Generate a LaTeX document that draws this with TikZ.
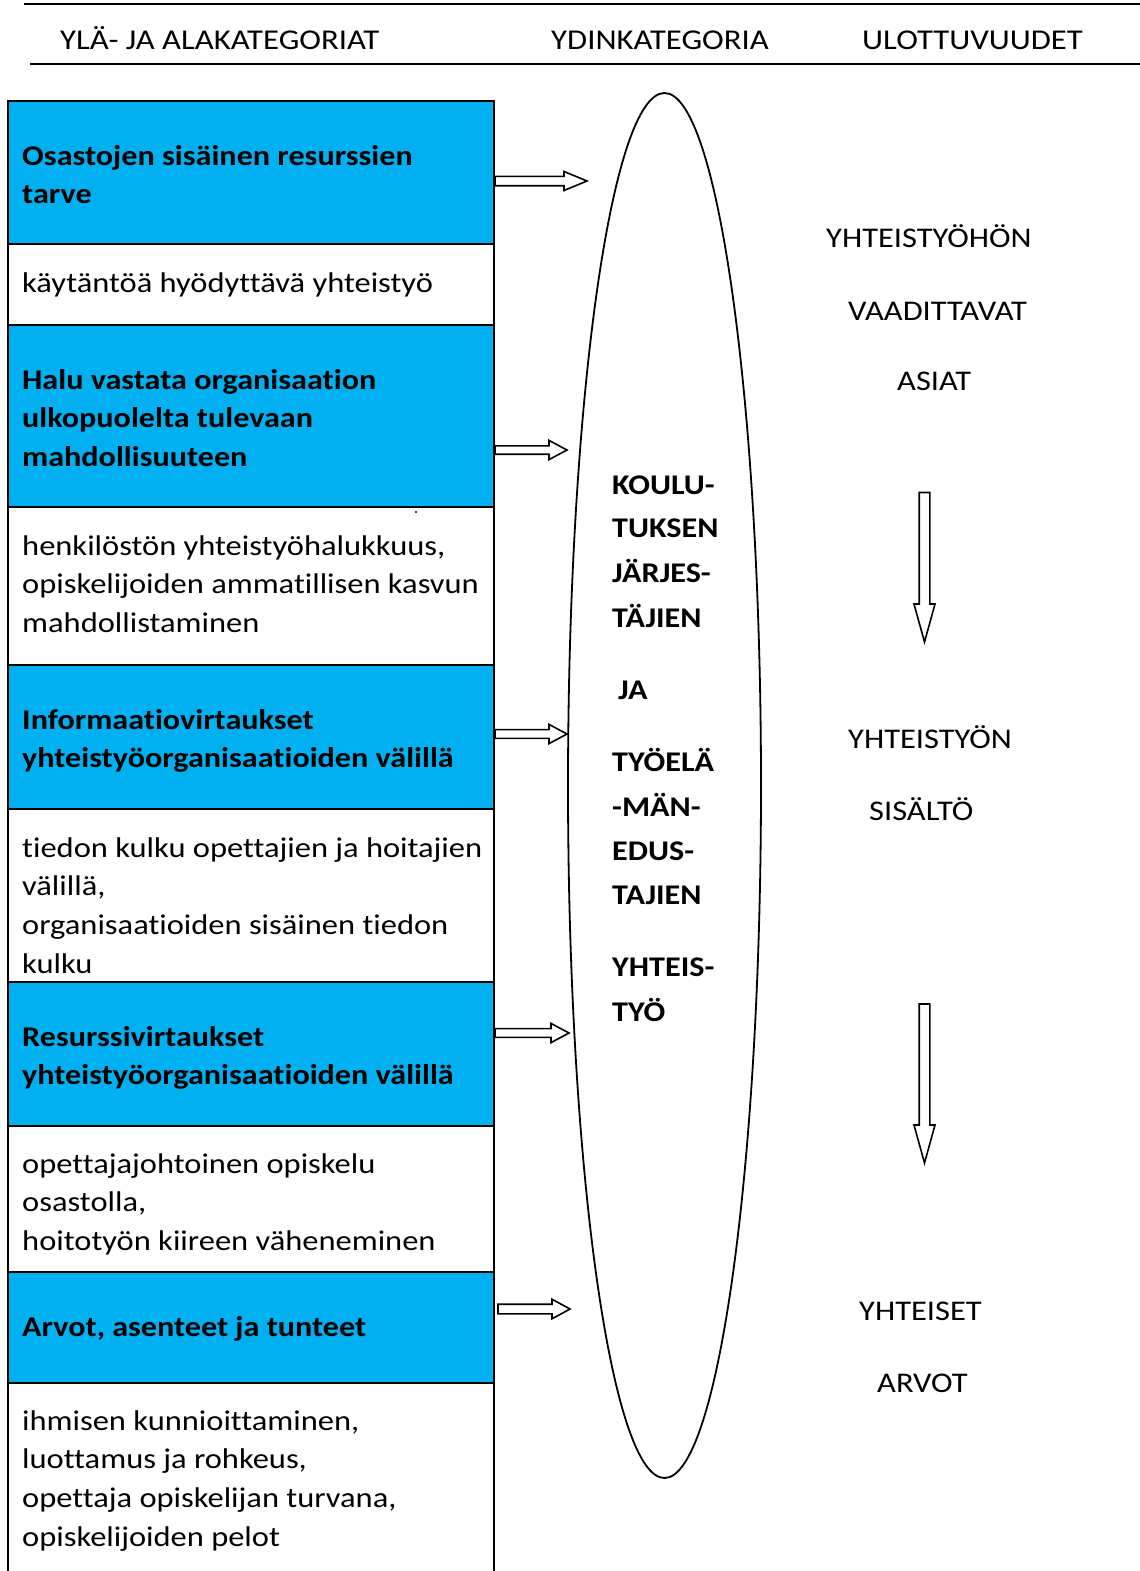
\documentclass[tikz,border=0pt]{standalone}
\usepackage{fontspec}
\setmainfont{Carlito}[FakeStretch=1.14, Ligatures=NoCommon, BoldFeatures={FakeStretch=1.128}]
\definecolor{boxblue}{HTML}{00B0F0}
\newcommand\stack[1]{\vtop{\halign{##\hfil\cr#1\crcr}}}
\newcommand\rightblock[6]{\draw[blockarrow] (#1,#2-#5) -- (#3,#2-#5) -- (#3,#2-#6) -- (#4,#2) -- (#3,#2+#6) -- (#3,#2+#5) -- (#1,#2+#5) -- cycle;}
\newcommand\downblock[6]{\draw[blockarrow] (#1-#5,#2) -- (#1+#5,#2) -- (#1+#5,#3) -- (#1+#6,#3) -- (#1,#4) -- (#1-#6,#3) -- (#1-#5,#3) -- cycle;}
\begin{document}
\begin{tikzpicture}[x=1pt,y=-1pt,
  bodytext/.style={font=\fontsize{28.5}{38.7}\selectfont, inner sep=0pt, anchor=base west},
  boldtext/.style={font=\fontsize{28.5}{38.7}\selectfont\bfseries, inner sep=0pt, anchor=base west},
  headtext/.style={font=\fontsize{28.7}{34}\selectfont, inner sep=0pt, anchor=base west},
  bluebox/.style={fill=boxblue, draw=black, line width=2pt},
  whitebox/.style={fill=white, draw=black, line width=2pt},
  blockarrow/.style={draw=black, fill=white, line width=1.6pt, line join=miter},
  rule/.style={draw=black, line width=2pt}]
\useasboundingbox (0,0) rectangle (1140,1571);
\fill[white] (0,0) rectangle (1140,1571);

% header rules
\draw[rule] (24,4) -- (1140,4);
\draw[rule] (30,64) -- (1140,64);
\node[headtext] (h1) at (60,50) {YLÄ- JA ALAKATEGORIAT};
\node[headtext] (h2) at (551,50) {YDINKATEGORIA};
\node[headtext] (h3) at (862,50) {ULOTTUVUUDET};

% left column boxes
\draw[bluebox] (8,101) rectangle (494,244);
\draw[whitebox] (8,244) rectangle (494,325);
\draw[bluebox] (8,325) rectangle (494,507);
\draw[whitebox] (8,507) rectangle (494,665);
\draw[bluebox] (8,665) rectangle (494,809);
\draw[whitebox] (8,809) rectangle (494,982);
\draw[bluebox] (8,982) rectangle (494,1126);
\draw[whitebox] (8,1126) rectangle (494,1272);
\draw[bluebox] (8,1272) rectangle (494,1383);
\fill[white] (8,1383) rectangle (494,1575);
\draw[line width=2pt] (8,1575) -- (8,1383) -- (494,1383) -- (494,1575);
\fill (416,512) circle (1.2);

% left column texts
\node[boldtext] (b1) at (22,165) {\stack{Osastojen sisäinen resurssien\cr tarve}};
\node[bodytext] (w1) at (22,292) {\stack{käytäntöä hyödyttävä yhteistyö}};
\node[boldtext] (b2) at (22,389) {\stack{Halu vastata organisaation\cr ulkopuolelta tulevaan\cr mahdollisuuteen}};
\node[bodytext] (w2) at (22,555) {\stack{henkilöstön yhteistyöhalukkuus,\cr opiskelijoiden ammatillisen kasvun\cr mahdollistaminen}};
\node[boldtext] (b3) at (22,729) {\stack{Informaatiovirtaukset\cr yhteistyöorganisaatioiden välillä}};
\node[bodytext] (w3) at (22,857) {\stack{tiedon kulku opettajien ja hoitajien\cr välillä,\cr organisaatioiden sisäinen tiedon\cr kulku}};
\node[boldtext] (b4) at (22,1046) {\stack{Resurssivirtaukset\cr yhteistyöorganisaatioiden välillä}};
\node[bodytext] (w4) at (22,1173) {\stack{opettajajohtoinen opiskelu\cr osastolla,\cr hoitotyön kiireen väheneminen}};
\node[boldtext] (b5) at (22,1336) {\stack{Arvot, asenteet ja tunteet}};
\node[bodytext] (w5) at (22,1430) {\stack{ihmisen kunnioittaminen,\cr luottamus ja rohkeus,\cr opettaja opiskelijan turvana,\cr opiskelijoiden pelot}};

% right block arrows
\rightblock{495}{181}{564}{587}{4.7}{9.5}
\rightblock{495}{450}{549}{567}{4.2}{9.6}
\rightblock{495}{734}{549}{567}{4.4}{9.6}
\rightblock{495}{1033}{551}{569}{4.4}{9.6}
\rightblock{498}{1309}{552}{570}{4.8}{9.8}

% core ellipse
\draw[line width=1.8pt] (664.5,785.5) ellipse [x radius=96.5pt, y radius=692.5pt];
\node[boldtext] (c1) at (612,494) {KOULU-};
\node[boldtext] (c2) at (612,537) {TUKSEN};
\node[boldtext] (c3) at (612,582) {JÄRJES-};
\node[boldtext] (c4) at (612,627) {TÄJIEN};
\node[boldtext] (c5) at (618,699) {JA};
\node[boldtext] (c6) at (612,771) {TYÖELÄ};
\node[boldtext] (c7) at (612,816) {-MÄN-};
\node[boldtext] (c8) at (612,860) {EDUS-};
\node[boldtext] (c9) at (612,904) {TAJIEN};
\node[boldtext] (c10) at (612,976) {YHTEIS-};
\node[boldtext] (c11) at (612,1021) {TYÖ};

% right column
\node[bodytext] (r1) at (826,247) {YHTEISTYÖHÖN};
\node[bodytext] (r2) at (848,320) {VAADITTAVAT};
\node[bodytext] (r3) at (897,390) {ASIAT};
\node[bodytext] (r4) at (848,748) {YHTEISTYÖN};
\node[bodytext] (r5) at (869,820) {SISÄLTÖ};
\node[bodytext] (r6) at (859,1320) {YHTEISET};
\node[bodytext] (r7) at (877,1392) {ARVOT};
\downblock{924.5}{492.5}{604}{642}{5.3}{10.5}
\downblock{924.5}{1004}{1125}{1163}{5.3}{10.5}
\end{tikzpicture}
\end{document}
